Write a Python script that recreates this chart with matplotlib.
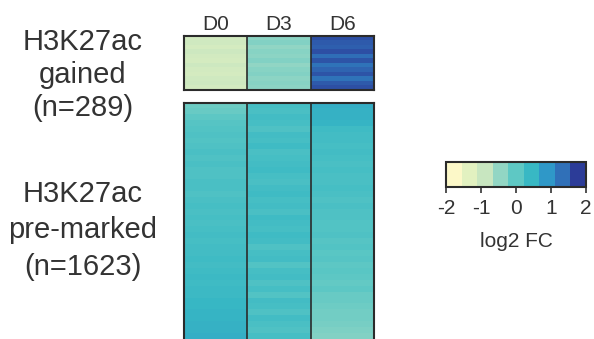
import numpy as np
import matplotlib
matplotlib.use('Agg')
import matplotlib.pyplot as plt
from matplotlib.colors import ListedColormap, LinearSegmentedColormap

plt.rcParams['font.family'] = ['Liberation Sans', 'DejaVu Sans']

# column labels
days = ['D0', 'D3', 'D6']

# log2 FC per row block (rows read top to bottom), gained peaks (n=289)
gained_d0 = [-1.2, -1.15, -1.25, -1.1, -1.2, -1.25, -1.1, -1.2, -1.25, -1.15, -1.1, -1.2]
gained_d3 = [-0.45, -0.35, -0.5, -0.4, -0.45, -0.35, -0.5, -0.4, -0.35, -0.45, -0.4, -0.45]
gained_d6 = [1.8, 1.7, 1.65, 1.8, 1.5, 1.75, 1.45, 1.6, 1.75, 1.45, 1.7, 1.8]

# pre-marked peaks (n=1623)
premarked_d0 = [-0.15, -0.1, 0.0, 0.1, 0.15, 0.2, 0.15, 0.2, 0.25, 0.2,
                0.25, 0.2, 0.2, 0.25, 0.25, 0.2, 0.25, 0.3, 0.25, 0.3,
                0.25, 0.3, 0.35, 0.3, 0.35, 0.35, 0.4, 0.35, 0.4, 0.45,
                0.4, 0.45, 0.45, 0.5, 0.5, 0.55, 0.55, 0.6, 0.6, 0.65]
premarked_d3 = [0.3, 0.25, 0.35, 0.3, 0.2, 0.35, 0.3, 0.4, 0.25, 0.3,
                0.35, 0.4, 0.3, 0.25, 0.35, 0.4, 0.3, 0.35, 0.25, 0.4,
                0.35, 0.3, 0.4, 0.35, 0.2, 0.3, 0.35, 0.15, 0.3, 0.35,
                0.2, 0.3, 0.15, 0.35, 0.3, 0.2, 0.35, 0.25, 0.2, 0.3]
premarked_d6 = [0.65, 0.6, 0.6, 0.55, 0.4, 0.35, 0.35, 0.3, 0.35, 0.3,
                0.25, 0.3, 0.25, 0.25, 0.3, 0.25, 0.2, 0.25, 0.2, 0.2,
                0.15, 0.15, 0.2, 0.1, 0.15, 0.05, 0.1, 0.0, 0.05, 0.0,
                -0.05, 0.0, -0.1, -0.1, -0.15, -0.2, -0.2, -0.25, -0.3, -0.35]

# colour steps of the legend bar, from -2 to 2
palette = ['#fcf8c8', '#e2f1c0', '#c8e6c0', '#92d6c4', '#5ec8c4',
           '#38b8c4', '#2f98c8', '#3070b8', '#2c3c98']

W, H = 594, 339
fig = plt.figure(figsize=(W / 100, H / 100), dpi=100)

cmap = LinearSegmentedColormap.from_list('fc', palette)
vmin, vmax = -2, 2
edge = '#2b2b2b'
txt_col = '#333333'


def px_axes(x0, y0, x1, y1):
    return fig.add_axes([x0 / W, 1 - y1 / H, (x1 - x0) / W, (y1 - y0) / H])


def draw_block(ax, cols):
    data = np.column_stack(cols)
    im = ax.imshow(data, cmap=cmap, vmin=vmin, vmax=vmax, aspect='auto',
                   interpolation='nearest')
    ax.set_xticks([])
    ax.set_yticks([])
    for s in ax.spines.values():
        s.set_color(edge)
        s.set_linewidth(1.5)
    for xv in [0.5, 1.5]:
        ax.axvline(xv, color=edge, lw=1.2)
    return im


ax_top = px_axes(184, 36, 374, 90)
draw_block(ax_top, [gained_d0, gained_d3, gained_d6])
for i, d in enumerate(days):
    ax_top.text(i, -0.9, d, ha='center', va='bottom', fontsize=15, color=txt_col)

ax_bot = px_axes(184, 103, 374, 339)
draw_block(ax_bot, [premarked_d0, premarked_d3, premarked_d6])
ax_bot.spines['bottom'].set_visible(False)

# row group labels
for txt, y in zip(['H3K27ac', 'gained', '(n=289)'], [42, 75, 108]):
    fig.text(83 / W, 1 - y / H, txt, ha='center', va='center', fontsize=21, color=txt_col)
for txt, y in zip(['H3K27ac', 'pre-marked', '(n=1623)'], [194, 230, 267]):
    fig.text(83 / W, 1 - y / H, txt, ha='center', va='center', fontsize=21, color=txt_col)

# colorbar
cax = px_axes(446, 162, 586, 187)
sm = plt.cm.ScalarMappable(cmap=ListedColormap(palette), norm=plt.Normalize(vmin, vmax))
cb = fig.colorbar(sm, cax=cax, orientation='horizontal', ticks=[-2, -1, 0, 1, 2])
cb.outline.set_color(edge)
cb.outline.set_linewidth(1.5)
cax.tick_params(labelsize=15, length=4, width=1.2, colors=txt_col, pad=5)
cb.set_ticklabels(['-2', '-1', '0', '1', '2'])
cb.set_label('log2 FC', fontsize=15, color=txt_col, labelpad=10)

fig.savefig('out.png', dpi=100)
